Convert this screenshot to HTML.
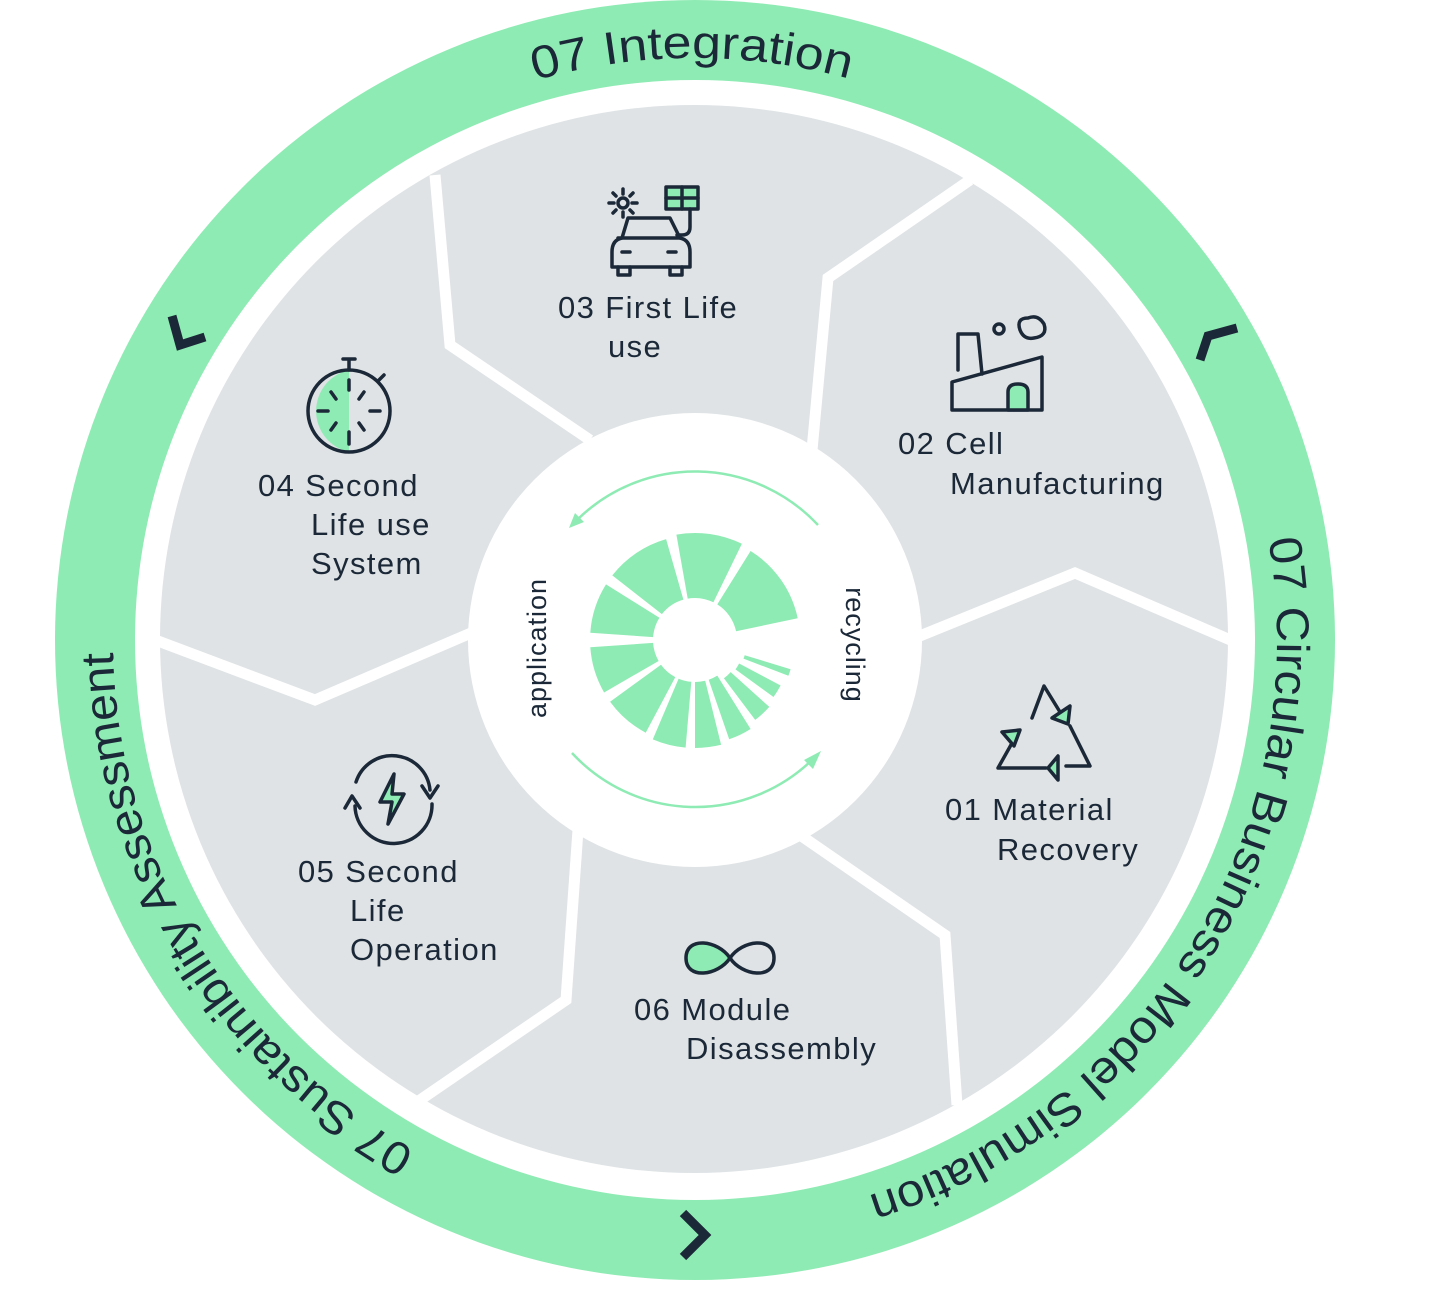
<!DOCTYPE html>
<html><head><meta charset="utf-8"><style>
html,body{margin:0;padding:0;background:#fff;}
svg{display:block}
.t{font-family:"Liberation Sans",sans-serif;font-size:31px;letter-spacing:1.4px;fill:#1b2838}
.ring{font-family:"Liberation Sans",sans-serif;font-size:46px;fill:#1b2838}
.ic{fill:none;stroke:#1b2838;stroke-width:3.5;stroke-linejoin:round;stroke-linecap:round}
</style></head><body>
<svg width="1440" height="1314" viewBox="0 0 1440 1314" xmlns="http://www.w3.org/2000/svg">
<defs>
<path id="rp" d="M113,640 A582,582 0 1,1 1277,640 A582,582 0 1,1 113,640"/>
</defs>
<circle cx="695" cy="640" r="640" fill="#8eebb3"/>
<circle cx="695" cy="640" r="560" fill="#fff"/>
<circle cx="694" cy="639" r="534" fill="#dfe3e5"/>
<g fill="none" stroke="#fff" stroke-width="11" stroke-linejoin="miter">
<polyline points="435,175 450,345 590,440"/>
<polyline points="970,180 828,278 812,450"/>
<polyline points="910,640 1075,573 1235,642"/>
<polyline points="800,835 945,935 957,1105"/>
<polyline points="578,830 566,1000 420,1100"/>
<polyline points="478,630 315,700 150,638"/>
</g>
<circle cx="695" cy="640" r="227" fill="#fff"/>
<text class="ring"><textPath href="#rp" startOffset="752" textLength="318" lengthAdjust="spacingAndGlyphs">07 Integration</textPath></text>
<text class="ring"><textPath href="#rp" startOffset="1727" textLength="840" lengthAdjust="spacingAndGlyphs">07 Circular Business Model Simulation</textPath></text>
<text class="ring"><textPath href="#rp" startOffset="3034" textLength="610" lengthAdjust="spacingAndGlyphs">07 Sustainibility Assessment</textPath></text>
<g fill="none" stroke="#1b2838" stroke-width="9" stroke-linecap="butt">
<polyline points="172,316 180,345 205,337"/>
<polyline points="1237,328 1208,336 1200,360"/>
<polyline points="683,1213 705,1235 683,1257"/>
</g>
<g fill="none" stroke="#8eebb3" stroke-width="2.5">
<path d="M818,525 A168,168 0 0,0 577,520"/>
<path d="M572,753 A168,168 0 0,0 812,760"/>
</g>
<polygon points="569,528 584,522 575,513" fill="#8eebb3"/>
<polygon points="821,751 813,769 804,760" fill="#8eebb3"/>
<g id="wedges" fill="#8eebb3"></g>
<text class="t" style="font-size:27px;letter-spacing:1px" transform="translate(546,648) rotate(-90)" text-anchor="middle">application</text>
<text class="t" style="font-size:27px;letter-spacing:1px" transform="translate(846,645) rotate(90)" text-anchor="middle">recycling</text>
<text class="t"><tspan x="558" y="318">03 First Life</tspan><tspan x="608" y="357">use</tspan></text>
<text class="t"><tspan x="898" y="454">02 Cell</tspan><tspan x="950" y="494">Manufacturing</tspan></text>
<text class="t"><tspan x="258" y="496">04 Second</tspan><tspan x="311" y="535">Life use</tspan><tspan x="311" y="574">System</tspan></text>
<text class="t"><tspan x="945" y="820">01 Material</tspan><tspan x="997" y="860">Recovery</tspan></text>
<text class="t"><tspan x="298" y="882">05 Second</tspan><tspan x="350" y="921">Life</tspan><tspan x="350" y="960">Operation</tspan></text>
<text class="t"><tspan x="634" y="1020">06 Module</tspan><tspan x="686" y="1059">Disassembly</tspan></text>
<g class="ic">
<circle cx="623" cy="203" r="5"/>
<path d="M623,189v5M623,212v5M609,203h5M632,203h5M613,193l3,3M630,210l3,3M633,193l-3,3M613,213l3,-3"/>
<rect x="666" y="187" width="32" height="22" fill="#8eebb3"/>
<path d="M682,187v22M666,198h32M690,209v18q0,8-8,8h-5"/>
<path d="M628,218h42l10,20q10,2,10,14v15h-78v-15q0-12,10-14z"/>
<path d="M618,238h62M618,267v8h12v-8M670,267v8h12v-8M622,252h8M668,252h8"/>
</g>
<g class="ic">
<path d="M958,370v-36h20l4,40"/>
<path d="M952,410v-28l90,-25v53z"/>
<path d="M1008,410v-18q0-8,10-8q10,0,10,8v18z" fill="#8eebb3"/>
<circle cx="999" cy="329" r="5"/>
<path d="M1020,330q-4,-12,8,-12q10,-4,16,6q4,12,-10,14q-10,2,-14,-8z"/>
</g>
<g class="ic">
<path d="M349,370 A42,42 0 0,0 349,452z" fill="#8eebb3" stroke="none"/>
<circle cx="349" cy="411" r="41"/>
<path d="M349,370v-10M343,359h12M378,381l6,-6"/>
<path d="M349,380v10M349,432v12M318,411h10M370,411h10M331,392l5,7M364,392l-5,7M331,430l5,-7M364,430l-5,-7"/>
</g>
<g class="ic">
<path d="M1032,718l12,-32l16,26"/>
<path d="M1070,726l20,40h-24"/>
<path d="M1046,768h-48l18,-32"/>
<polygon points="1052,718 1070,706 1068,724" fill="#8eebb3"/>
<polygon points="1002,732 1020,730 1014,746" fill="#8eebb3"/>
<polygon points="1048,768 1058,756 1058,780" fill="#8eebb3"/>
</g>
<g class="ic">
<path d="M356,782 A38,38 0 0,1 430,790"/>
<path d="M422,786l8,12l8,-12"/>
<path d="M432,804 A38,38 0 0,1 355,806"/>
<path d="M345,808l7,-12l8,12"/>
<path d="M394,774l-14,28h12l-4,22l16,-30h-12z" fill="#8eebb3"/>
</g>
<g class="ic">
<path d="M730,958 C718,940 686,936 686,958 C686,980 718,976 730,958z" fill="#8eebb3"/>
<path d="M730,958 C742,940 774,936 774,958 C774,980 742,976 730,958z"/>
</g>
<script>
(function(){
var g=document.getElementById('wedges'),cx=695,cy=640;
var W=[[-58,-12,42,105],[-100,-64,42,107],[-142,-106,42,105],[-176,-148,42,105],[150,176,42,105],[118,144,42,105],[95,113,42,108],[76,90,42,108],[58,71,42,105],[42,53,48,100],[28,36,50,97],[17,21,52,100]];
W.forEach(function(w){
 var a=w[0]*Math.PI/180,b=w[1]*Math.PI/180,r1=w[2],r2=w[3];
 function p(r,t){return (cx+r*Math.cos(t)).toFixed(1)+','+(cy+r*Math.sin(t)).toFixed(1);}
 var d='M'+p(r1,a)+' L'+p(r2,a)+' A'+r2+','+r2+' 0 0,1 '+p(r2,b)+' L'+p(r1,b)+' A'+r1+','+r1+' 0 0,0 '+p(r1,a)+'Z';
 var e=document.createElementNS('http://www.w3.org/2000/svg','path');e.setAttribute('d',d);g.appendChild(e);
});
})();
</script>
</svg>
</body></html>
